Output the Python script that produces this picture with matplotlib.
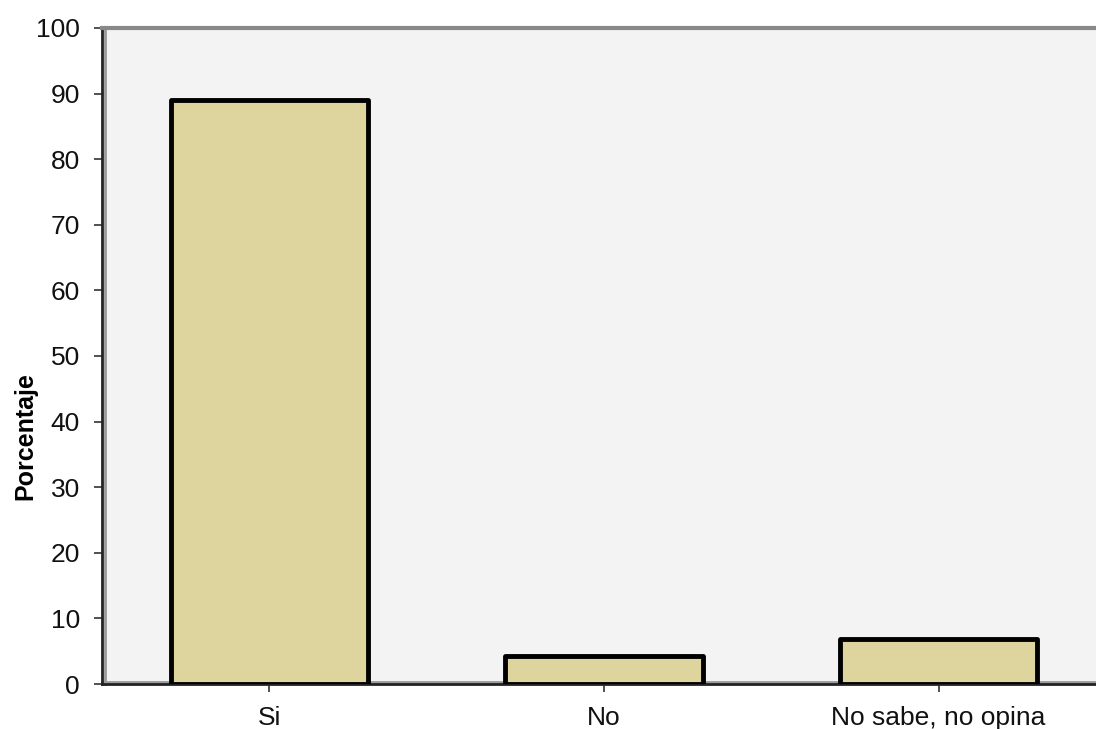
import matplotlib
matplotlib.use('Agg')
import matplotlib.transforms as mtransforms
from matplotlib import pyplot as plt

# survey answers (percent of respondents)
categories = ['Si', 'No', 'No sabe, no opina']
percentages = [89.0, 4.2, 6.8]
y_ticks = list(range(0, 101, 10))

plt.rcParams['font.family'] = ['Liberation Sans', 'DejaVu Sans']

fig = plt.figure(figsize=(10.96, 7.29), dpi=100)
ax = fig.add_axes([102 / 1096, 45 / 729, 1004 / 1096, 656 / 729])
ax.set_facecolor('#f3f3f3')

positions = range(len(categories))
bars = ax.bar(positions, percentages, width=0.59, color='#ddd49e',
              edgecolor='black', linewidth=3.5, zorder=3)
for b in bars:
    b.set_joinstyle('round')

ax.set_xlim(-0.5, 2.5)
ax.set_ylim(0, 100)
ax.set_yticks(y_ticks)
ax.set_xticks(list(positions))
ax.set_xticklabels(categories)

ax.tick_params(axis='both', direction='out', length=6, width=1.2,
               color='#333333', labelsize=19, labelcolor='#111111')
ax.tick_params(axis='y', pad=10)
ax.tick_params(axis='x', pad=10)

# axis title sits a bit below the middle of the axis
fig.text(25 / 1096, 1 - 436 / 729, 'Porcentaje', rotation=90, fontsize=18,
         fontweight='bold', ha='center', va='center')

for side in ('left', 'bottom'):
    ax.spines[side].set_color('#222222')
    ax.spines[side].set_linewidth(2)
ax.spines['top'].set_color('#888888')
ax.spines['top'].set_linewidth(3)
ax.spines['right'].set_visible(False)

# soft gray shading just inside the left and bottom axis lines
shift_right = ax.transAxes + mtransforms.ScaledTranslation(2.5 / 100, 0, fig.dpi_scale_trans)
shift_up = ax.transAxes + mtransforms.ScaledTranslation(0, 2.5 / 100, fig.dpi_scale_trans)
ax.plot([0, 0], [0, 1], transform=shift_right, color='#9a9a9a', lw=2,
        zorder=2, clip_on=False)
ax.plot([0, 1], [0, 0], transform=shift_up, color='#9a9a9a', lw=2,
        zorder=2, clip_on=False)

fig.savefig('out.png', dpi=100, facecolor='white')
